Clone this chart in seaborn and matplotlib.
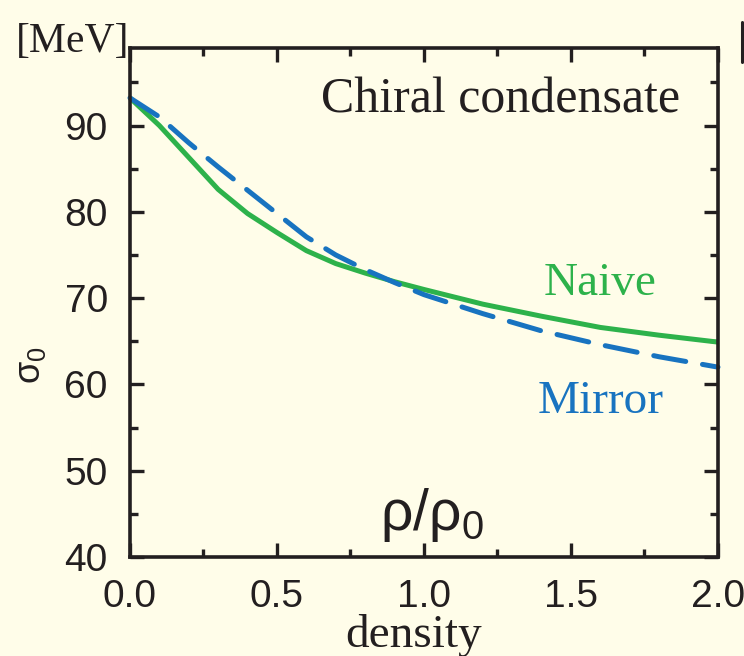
import matplotlib
matplotlib.use("Agg")
import matplotlib.pyplot as plt
from matplotlib.lines import Line2D
import seaborn as sns
import pandas as pd

# density in units of normal nuclear density
density_naive = [0.0, 0.1, 0.2, 0.3, 0.4, 0.5, 0.6, 0.7, 0.8, 0.9, 1.0, 1.2, 1.4, 1.6, 1.8, 2.0]
sigma_naive = [93.2, 90.0, 86.3, 82.6, 79.8, 77.6, 75.5, 74.0, 72.9, 71.9, 71.0, 69.3, 67.9, 66.6, 65.7, 64.9]

density_mirror = [0.0, 0.1, 0.2, 0.3, 0.4, 0.5, 0.6, 0.7, 0.8, 0.9, 1.0, 1.2, 1.4, 1.6, 1.8, 2.0]
sigma_mirror = [93.2, 91.0, 88.0, 85.2, 82.5, 79.8, 77.1, 75.0, 73.3, 71.8, 70.4, 68.2, 66.2, 64.6, 63.2, 62.0]

x_ticks = [0.0, 0.5, 1.0, 1.5, 2.0]
x_tick_labels = ["0.0", "0.5", "1.0", "1.5", "2.0"]
y_ticks = [40, 50, 60, 70, 80, 90]

BG = "#FFFDE9"
GREEN = "#2DB24B"
BLUE = "#1873C0"
INK = "#231F20"

sns.set_style("ticks")
plt.rcParams["font.family"] = ["Liberation Sans", "DejaVu Sans"]
plt.rcParams["mathtext.fontset"] = "custom"
plt.rcParams["mathtext.rm"] = "Liberation Sans"
plt.rcParams["mathtext.it"] = "Liberation Sans"

naive = pd.DataFrame({"density": density_naive, "sigma": sigma_naive})
mirror = pd.DataFrame({"density": density_mirror, "sigma": sigma_mirror})

fig = plt.figure(figsize=(7.44, 6.56), dpi=100, facecolor=BG)
ax = fig.add_axes([0.1747, 0.151, 0.7903, 0.776], facecolor=BG)

sns.lineplot(data=naive, x="density", y="sigma", ax=ax, color=GREEN,
             linewidth=3.6, solid_capstyle="butt", clip_on=False)
sns.lineplot(data=mirror, x="density", y="sigma", ax=ax, color=BLUE,
             linewidth=3.6, dashes=False, clip_on=False)
ax.lines[-1].set_dashes((6.5, 3.4))
ax.lines[-1].set_dash_capstyle("round")

ax.set_xlim(0, 2.0)
ax.set_ylim(40, 99)
ax.set_xticks(x_ticks)
ax.set_xticklabels(x_tick_labels)
ax.set_yticks(y_ticks)
ax.set_xticks([0.25, 0.75, 1.25, 1.75], minor=True)
ax.set_yticks([45, 55, 65, 75, 85, 95], minor=True)

for side in ["left", "right", "top", "bottom"]:
    ax.spines[side].set_visible(True)
    ax.spines[side].set_linewidth(2.6)
    ax.spines[side].set_color(INK)

ax.tick_params(which="both", direction="in", top=True, right=True,
               colors=INK, labelsize=28, pad=16)
ax.tick_params(which="major", length=10, width=2.4)
ax.tick_params(which="minor", length=6, width=2.4)

ax.set_xlabel("density", fontfamily="Liberation Serif", fontsize=34,
              color=INK, va="top")
ax.xaxis.set_label_coords(0.483, -0.112)
ax.set_ylabel(r"$\mathregular{σ_0}$", fontsize=26, color=INK, va="center")
ax.yaxis.set_label_coords(-0.17, 0.377)

ax.text(0.935, 0.874, "Chiral condensate", transform=ax.transAxes,
        ha="right", va="baseline", fontfamily="Liberation Serif",
        fontsize=36, color=INK)
ax.text(0.80, 0.515, "Naive", transform=ax.transAxes, ha="center",
        va="baseline", fontfamily="Liberation Serif", fontsize=34, color=GREEN)
ax.text(0.80, 0.283, "Mirror", transform=ax.transAxes, ha="center",
        va="baseline", fontfamily="Liberation Serif", fontsize=34, color=BLUE)
ax.text(0.514, 0.053, r"$\mathregular{ρ/ρ_0}$", transform=ax.transAxes,
        ha="center", va="baseline", fontsize=41, color=INK)

fig.text(16 / 744, 1 - 52 / 656, "[MeV]", ha="left", va="baseline",
         fontfamily="Liberation Serif", fontsize=30, color=INK)

# edge of the neighbouring panel's bracket
fig.add_artist(Line2D([741.5 / 744, 741.5 / 744], [1 - 22 / 656, 1 - 62 / 656],
                      transform=fig.transFigure, color=INK, linewidth=2.2))

fig.savefig("out.png", dpi=100, facecolor=BG)
